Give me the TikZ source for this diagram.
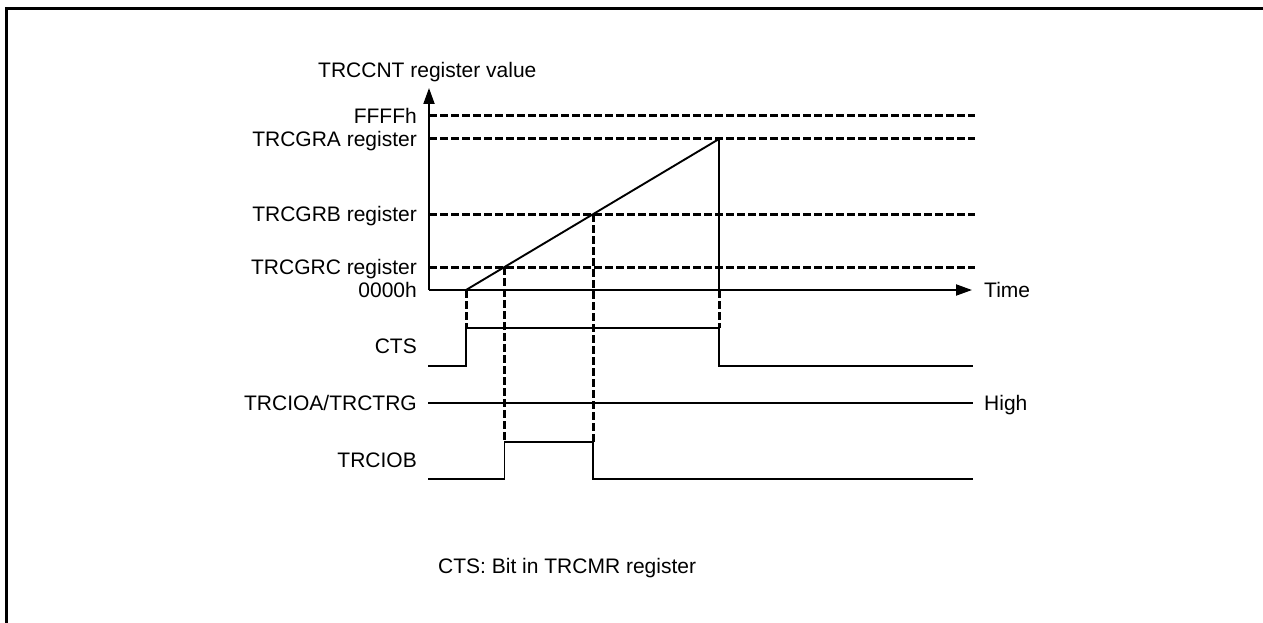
\documentclass[tikz,border=0pt]{standalone}
\usepackage{fontspec}
\setmainfont{Liberation Sans}
\usetikzlibrary{arrows.meta}
\begin{document}
\begin{tikzpicture}[x=1pt,y=-1pt,
  sig/.style={line width=1.9pt},
  dsh/.style={line width=3pt,dash pattern=on 7.5pt off 3.5pt},
  frm/.style={line width=3pt},
  lbl/.style={inner sep=0pt,font=\fontsize{21}{25}\selectfont},
  ax/.style={line width=1.9pt,-{Triangle[length=16pt,width=11pt]}}]
\useasboundingbox (0,0) rectangle (1263,623);
% frame
\draw[frm] (6.5,623) -- (6.5,8.5) -- (1263,8.5);
% dashed reference levels
\coordinate (o) at (429,290);
\draw[dsh] (429,116) -- (975,116);
\draw[dsh] (429,139) -- (975,139);
\draw[dsh] (429,214) -- (975,214);
\draw[dsh] (429,267) -- (975,267);
% dashed verticals
\draw[dsh] (466,290) -- (466,328);
\draw[dsh] (504.5,267) -- (504.5,442);
\draw[dsh] (593,214) -- (593,442);
\draw[dsh] (719,290) -- (719,328);
% axes
\draw[ax] (o) -- (429,88);
\draw[ax] (o) -- (972,290);
% counter ramp
\draw[sig] (466,290) -- (719,139) -- (719,290);
% CTS
\draw[sig] (428,366) -- (466,366) -- (466,328) -- (719,328) -- (719,366) -- (973,366);
% TRCIOA/TRCTRG
\draw[sig] (428,403) -- (973,403);
% TRCIOB
\draw[sig] (428,479) -- (504.5,479) -- (504.5,442) -- (593,442) -- (593,479) -- (973,479);
% labels
\node[lbl,anchor=base west] (title) at (318,78) {TRCCNT register value};
\node[lbl,anchor=base east] (ffff) at (417,123.5) {FFFFh};
\node[lbl,anchor=base east] (gra) at (417,146.5) {TRCGRA register};
\node[lbl,anchor=base east] (grb) at (417,221.5) {TRCGRB register};
\node[lbl,anchor=base east] (grc) at (417,274.5) {TRCGRC register};
\node[lbl,anchor=base east] (zero) at (417,297.5) {0000h};
\node[lbl,anchor=base west] (time) at (984,297.5) {Time};
\node[lbl,anchor=base east] (cts) at (417,353.5) {CTS};
\node[lbl,anchor=base east] (ioa) at (417,410.5) {TRCIOA/TRCTRG};
\node[lbl,anchor=base west] (high) at (984,410.5) {High};
\node[lbl,anchor=base east] (iob) at (417,467.5) {TRCIOB};
\node[lbl,anchor=base west] (note) at (438,573) {CTS: Bit in TRCMR register};
\end{tikzpicture}
\end{document}
